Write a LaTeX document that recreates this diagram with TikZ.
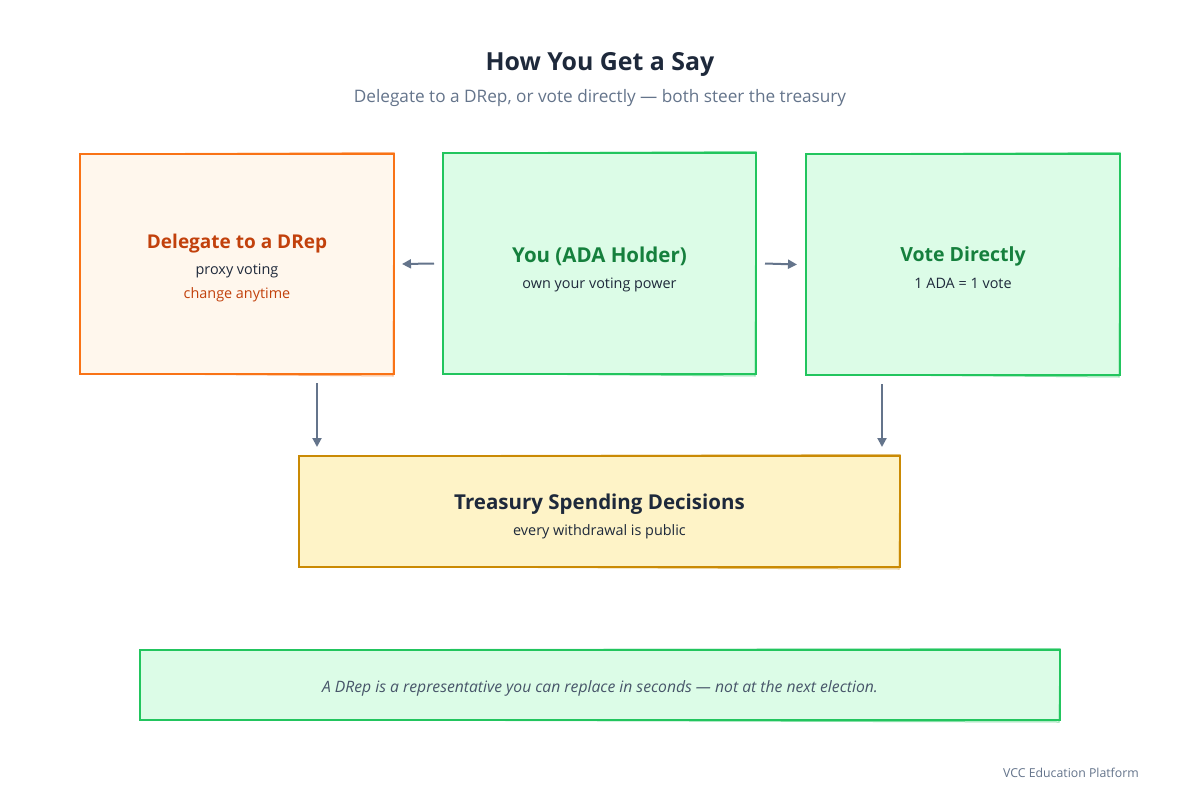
\documentclass[tikz,border=0pt]{standalone}
\usepackage{fontspec}
\setmainfont{Open Sans}
\usetikzlibrary{arrows.meta}
\definecolor{ink}{HTML}{1E293B}
\definecolor{sub}{HTML}{64748B}
\definecolor{orfill}{HTML}{FFF7ED}
\definecolor{orline}{HTML}{F97316}
\definecolor{ortext}{HTML}{C2410C}
\definecolor{grfill}{HTML}{DCFCE7}
\definecolor{grline}{HTML}{22C55E}
\definecolor{grtext}{HTML}{15803D}
\definecolor{yefill}{HTML}{FEF3C7}
\definecolor{yeline}{HTML}{CA8A04}
\definecolor{arrc}{HTML}{64748B}
\definecolor{note}{HTML}{475569}
\tikzset{
  sbox/.style={draw, line width=2pt, inner sep=0pt},
  orbox/.style={sbox, fill=orfill, draw=orline},
  grbox/.style={sbox, fill=grfill, draw=grline},
  yebox/.style={sbox, fill=yefill, draw=yeline},
  ttl/.style={font=\fontsize{20.5}{24}\selectfont\bfseries, inner sep=0pt},
  lbl/.style={font=\fontsize{14.4}{17}\selectfont, inner sep=0pt, text=ink},
  arr/.style={draw=arrc, line width=2pt, -{Triangle[length=9pt,width=9pt]}},
}
\newcommand\sketchline[2]{%
  \draw[#2, line width=1pt, opacity=.55]
    ([shift={(1.5,1)}]#1.north west) -- ([shift={(-1,-0.5)}]#1.north east) --
    ([shift={(-2,1)}]#1.south east) -- ([shift={(1,-1.5)}]#1.south west) -- cycle;}
\begin{document}
\begin{tikzpicture}[x=1pt,y=-1pt]
\useasboundingbox[fill=white] (0,0) rectangle (1200,800);
% title
\node[font=\fontsize{24.9}{29}\selectfont\bfseries, text=ink] (title) at (600,64) {How You Get a Say};
\node[font=\fontsize{17.2}{20}\selectfont, text=sub] (subtitle) at (600,98) {Delegate to a DRep, or vote directly — both steer the treasury};
% boxes
\node[orbox, minimum width=314pt, minimum height=220pt] (drep) at (237,264) {};
\sketchline{drep}{orline}
\node[grbox, minimum width=313pt, minimum height=221pt] (you) at (599.5,263.5) {};
\sketchline{you}{grline}
\node[grbox, minimum width=314pt, minimum height=221pt] (vote) at (963,264.5) {};
\sketchline{vote}{grline}
\node[yebox, minimum width=601pt, minimum height=111pt] (treas) at (599.5,511.5) {};
\sketchline{treas}{yeline}
\node[grbox, minimum width=920pt, minimum height=70pt] (notebox) at (600,685) {};
\sketchline{notebox}{grline}
% texts
\node[ttl, text=ortext, font=\fontsize{19}{22}\selectfont\bfseries] (drept) at (237,244) {Delegate to a DRep};
\node[lbl] (drepa) at (237,271) {proxy voting};
\node[lbl, text=ortext] (drepb) at (237,295) {change anytime};
\node[ttl, text=grtext] (yout) at (599.5,256) {You (ADA Holder)};
\node[lbl] (youa) at (599.5,285) {own your voting power};
\node[ttl, text=grtext, font=\fontsize{19.5}{23}\selectfont\bfseries] (votet) at (963,256) {Vote Directly};
\node[lbl] (votea) at (963,283) {1 ADA = 1 vote};
\node[ttl, text=ink] (treast) at (599.5,504) {Treasury Spending Decisions};
\node[lbl] (treasa) at (599.5,532) {every withdrawal is public};
\node[font=\fontsize{15.7}{18}\selectfont\itshape, text=note, inner sep=0pt] (notet) at (600,688) {A DRep is a representative you can replace in seconds — not at the next election.};
\node[font=\fontsize{12.3}{14}\selectfont, text=sub, anchor=east, inner sep=0pt] (footer) at (1139,773) {VCC Education Platform};
% arrows
\coordinate (tl) at ([xshift=19pt,yshift=8pt]treas.north west);
\coordinate (tr) at ([xshift=-19pt,yshift=8pt]treas.north east);
\draw[arr] ([xshift=-8pt]you.west) -- ([xshift=7pt]drep.east);
\draw[arr] ([xshift=8pt]you.east) -- ([xshift=-8pt]vote.west);
\draw[arr] ([yshift=-8pt]drep.south -| tl) -- (tl);
\draw[arr] ([yshift=-8pt]vote.south -| tr) -- (tr);
\end{tikzpicture}
\end{document}
